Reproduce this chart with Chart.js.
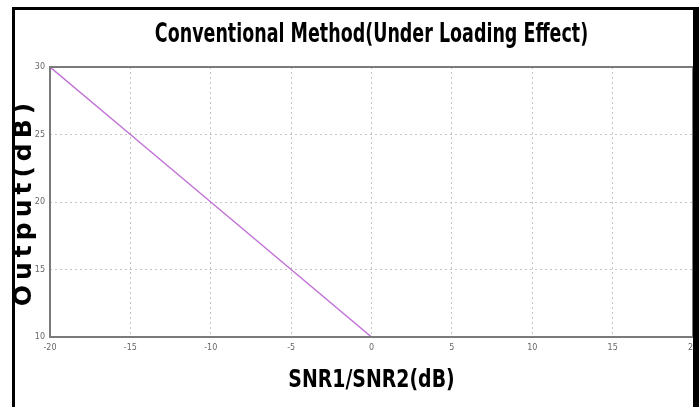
<!DOCTYPE html>
<html>
<head>
<meta charset="utf-8">
<script src="https://cdn.jsdelivr.net/npm/chart.js@4/dist/chart.umd.min.js"></script>
<style>
  html, body { margin: 0; padding: 0; background: #fff; width: 699px; height: 407px; overflow: hidden; }
  #frame {
    position: absolute; left: 12px; top: 7px;
    width: 678px; height: 400px;
    border-top: 3px solid #000; border-left: 3px solid #000; border-right: 6px solid #000;
  }
  #wrap { position: relative; width: 678px; height: 397px; }
</style>
</head>
<body>
<div id="frame"><div id="wrap"><canvas id="chart"></canvas></div></div>
<script>
  // ─── Data ───────────────────────────────────────────────
  const snrRatio = [-20, -15, -10, -5, 0];     // SNR1/SNR2 (dB)
  const outputDb = [30, 25, 20, 15, 10];       // Output (dB)
  const xTicks = [-20, -15, -10, -5, 0, 5, 10, 15, 20];
  const yTicks = [10, 15, 20, 25, 30];

  const points = snrRatio.map(function (x, i) { return { x: x, y: outputDb[i] }; });

  // Squeeze a draw call horizontally (the reference uses a tall narrow font).
  // fromX is where the library centres the text, toX where it should end up.
  function squeezed(ctx, fromX, toX, sx, fn) {
    ctx.save();
    ctx.translate(toX, 0);
    ctx.scale(sx, 1);
    ctx.translate(-fromX, 0);
    fn();
    ctx.restore();
  }

  const textTweaks = {
    id: 'textTweaks',
    beforeDraw: function (chart) {
      const ctx = chart.ctx;
      const ys = chart.scales.y, xs = chart.scales.x, tb = chart.titleBlock;
      if (ys && !ys._tweaked) {
        // y label is spread out wide in the reference
        const origY = ys.drawTitle.bind(ys);
        ys.drawTitle = function () {
          ctx.save();
          ctx.letterSpacing = '5px';
          origY();
          ctx.restore();
        };
        ys._tweaked = true;
      }
      if (xs && !xs._tweaked) {
        const origX = xs.drawTitle.bind(xs);
        xs.drawTitle = function () {
          const cx = (xs.left + xs.right) / 2;
          squeezed(ctx, cx, cx, 0.84, origX);
        };
        xs._tweaked = true;
      }
      if (tb && !tb._tweaked) {
        const origT = tb.draw.bind(tb);
        tb.draw = function () {
          // centre the title over the plot area rather than the whole canvas
          const a = chart.chartArea;
          squeezed(ctx, (tb.left + tb.right) / 2, (a.left + a.right) / 2, 0.72, origT);
        };
        tb._tweaked = true;
      }
    },
    afterDraw: function (chart) {
      // grey box round the plot area, like the MATLAB axes
      const a = chart.chartArea, ctx = chart.ctx;
      ctx.save();
      ctx.strokeStyle = '#7a7a7a';
      ctx.lineWidth = 2;
      ctx.strokeRect(a.left, a.top, a.right - a.left, a.bottom - a.top);
      ctx.restore();
    }
  };

  const gridStyle = { color: '#c4c4c4', lineWidth: 1, drawTicks: false };

  new Chart(document.getElementById('chart'), {
    type: 'scatter',
    data: {
      datasets: [{
        data: points,
        showLine: true,
        borderColor: '#c274d6',
        borderWidth: 1.5,
        pointRadius: 0,
        fill: false
      }]
    },
    options: {
      responsive: true,
      maintainAspectRatio: false,
      animation: false,
      layout: { padding: 0 },
      plugins: {
        legend: { display: false },
        tooltip: { enabled: false },
        title: {
          display: true,
          text: 'Conventional Method(Under Loading Effect)',
          color: '#000',
          font: { family: '"DejaVu Sans Condensed", "DejaVu Sans"', size: 27, weight: 'bold', lineHeight: 1.2 },
          padding: { top: 9, bottom: 15.6 }
        }
      },
      scales: {
        x: {
          type: 'linear',
          min: -20, max: 20,
          afterBuildTicks: function (s) { s.ticks = xTicks.map(function (v) { return { value: v }; }); },
          afterFit: function (s) { s.height = 70; s.paddingRight = 0; },
          grid: gridStyle,
          border: { display: false, dash: [2, 3] },
          ticks: { color: '#666', font: { family: 'DejaVu Sans', size: 8 }, padding: 6, maxRotation: 0 },
          title: {
            display: true,
            text: 'SNR1/SNR2(dB)',
            color: '#000',
            font: { family: '"DejaVu Sans Condensed", "DejaVu Sans"', size: 25, weight: 'bold', lineHeight: 1.2 },
            padding: { top: 0, bottom: 12 }
          }
        },
        y: {
          type: 'linear',
          min: 10, max: 30,
          afterBuildTicks: function (s) { s.ticks = yTicks.map(function (v) { return { value: v }; }); },
          afterFit: function (s) { s.width = 35; },
          grid: gridStyle,
          border: { display: false, dash: [2, 3] },
          ticks: { color: '#666', font: { family: 'DejaVu Sans', size: 8 }, padding: 5 },
          title: {
            display: true,
            text: 'Output(dB)',
            color: '#000',
            font: { family: '"DejaVu Sans"', size: 25, weight: 'bold', lineHeight: 1 },
            padding: { top: -3, bottom: 0 }
          }
        }
      }
    },
    plugins: [textTweaks]
  });
</script>
</body>
</html>
